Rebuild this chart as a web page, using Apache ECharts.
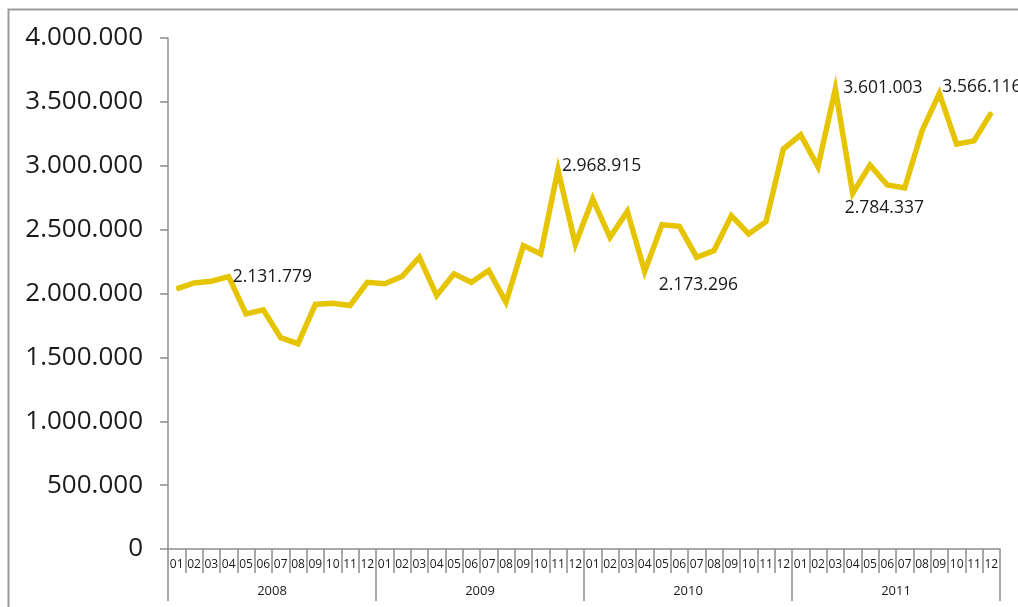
<!DOCTYPE html>
<html>
<head>
<meta charset="utf-8">
<style>
  html, body { margin: 0; padding: 0; background: #fff; }
  #chart { width: 1018px; height: 607px; }
</style>
<script src="https://cdn.jsdelivr.net/npm/echarts@6/dist/echarts.min.js"></script>
</head>
<body>
<div id="chart"></div>
<script>
// Monthly totals, 2008–2011
const years = ['2008', '2009', '2010', '2011'];
const monthLabels = ['01', '02', '03', '04', '05', '06', '07', '08', '09', '10', '11', '12'];
const values2008 = [2037000, 2083000, 2096000, 2131779, 1841000, 1872000, 1654000, 1607000, 1914000, 1924000, 1906000, 2088000];
const values2009 = [2076000, 2133000, 2284000, 1984000, 2154000, 2088000, 2180000, 1932000, 2375000, 2310000, 2968915, 2385000];
const values2010 = [2740000, 2440000, 2643000, 2173296, 2539000, 2526000, 2284000, 2336000, 2609000, 2466000, 2562000, 3130000];
const values2011 = [3242000, 2992000, 3601003, 2784337, 3005000, 2849000, 2826000, 3273000, 3566116, 3169000, 3195000, 3416000];
const yTicks = [0, 500000, 1000000, 1500000, 2000000, 2500000, 3000000, 3500000, 4000000];

// Annotated points: index in the flat monthly series, label offset from the point
const annotated = [
  { index: 3,  offset: [5, 1] },
  { index: 22, offset: [5, -3] },
  { index: 27, offset: [15, 15] },
  { index: 38, offset: [9, 0] },
  { index: 39, offset: [-7, 16] },
  { index: 44, offset: [4, -5] }
];

const fmt = v => String(v).replace(/\B(?=(\d{3})+(?!\d))/g, '.');

const allValues = [].concat(values2008, values2009, values2010, values2011);
const categories = [];
years.forEach(() => monthLabels.forEach(m => categories.push(m)));

const seriesData = allValues.map((v, i) => {
  const a = annotated.find(p => p.index === i);
  if (!a) return v;
  return {
    value: v,
    label: {
      show: true,
      position: a.offset,
      align: 'left',
      verticalAlign: 'middle',
      formatter: fmt(v)
    }
  };
});

const axisGray = '#8c8c8c';
const textColor = '#1a1a1a';
const font = "'Open Sans', 'Noto Sans', sans-serif";

const chart = echarts.init(document.getElementById('chart'));
chart.setOption({
  animation: false,
  backgroundColor: '#fff',
  textStyle: { fontFamily: font },
  graphic: [{
    type: 'rect',
    shape: { x: 8.5, y: 9.5, width: 1200, height: 800 },
    style: { fill: 'none', stroke: '#9a9a9a', lineWidth: 2 },
    silent: true,
    z: -10
  }],
  grid: { left: 168, right: 18, top: 38, bottom: 58, containLabel: false },
  xAxis: [
    {
      type: 'category',
      data: categories,
      boundaryGap: true,
      axisLine: { show: true, lineStyle: { color: axisGray, width: 1.5 } },
      axisTick: { show: true, interval: 0, length: 24, lineStyle: { color: axisGray, width: 1.5 } },
      axisLabel: { interval: 0, margin: 10, fontSize: 12, color: textColor, fontFamily: font }
    },
    {
      type: 'category',
      data: years,
      position: 'bottom',
      boundaryGap: true,
      axisLine: { show: false },
      axisTick: { show: true, interval: 0, length: 52, lineStyle: { color: axisGray, width: 1.5 } },
      axisLabel: { interval: 0, margin: 36, fontSize: 13, color: textColor, fontFamily: font }
    }
  ],
  yAxis: {
    type: 'value',
    min: yTicks[0],
    max: yTicks[yTicks.length - 1],
    interval: yTicks[1] - yTicks[0],
    splitLine: { show: false },
    axisLine: { show: true, lineStyle: { color: axisGray, width: 1.5 } },
    axisTick: { show: true, length: 8, lineStyle: { color: axisGray, width: 1.5 } },
    axisLabel: { margin: 25, fontSize: 26, color: textColor, fontFamily: font, formatter: fmt }
  },
  series: [{
    type: 'line',
    xAxisIndex: 0,
    data: seriesData,
    symbol: 'circle',
    symbolSize: 2,
    showSymbol: true,
    itemStyle: { color: '#e6c400' },
    lineStyle: { color: '#e6c400', width: 5.5, join: 'miter' },
    label: { show: false, fontSize: 17.5, color: textColor, fontFamily: font },
    emphasis: { disabled: true }
  }]
});
</script>
</body>
</html>
